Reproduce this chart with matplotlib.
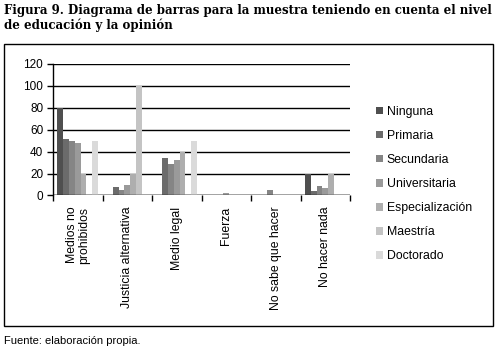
import matplotlib
matplotlib.use("Agg")
import matplotlib.pyplot as plt
from matplotlib.patches import Rectangle
import numpy as np

categories = ["Medios no\nprohibidos", "Justicia alternativa", "Medio legal",
              "Fuerza", "No sabe que hacer", "No hacer nada"]
levels = ["Ninguna", "Primaria", "Secundaria", "Universitaria",
          "Especialización", "Maestría", "Doctorado"]

# percent of each education level choosing each option
ninguna = [80, 0, 0, 0, 0, 20]
primaria = [52, 8, 34, 0, 0, 4]
secundaria = [50, 5, 29, 0, 5, 9]
universitaria = [48, 10, 32, 2, 0, 7]
especializacion = [20, 20, 40, 0, 0, 20]
maestria = [0, 100, 0, 0, 0, 0]
doctorado = [50, 0, 50, 0, 0, 0]

series = [ninguna, primaria, secundaria, universitaria,
          especializacion, maestria, doctorado]
colors = ["#4f4f4f", "#6b6b6b", "#858585", "#9a9a9a",
          "#aeaeae", "#c4c4c4", "#dadada"]

fig = plt.figure(figsize=(4.98, 3.51), dpi=100)
fig.patch.set_facecolor("white")

fig.text(0.008, 0.99, "Figura 9. Diagrama de barras para la muestra teniendo en cuenta el nivel\n"
         "de educación y la opinión", family="DejaVu Serif", weight="bold",
         fontsize=8.45, va="top", ha="left", linespacing=1.15)

# outer frame
fig.patches.append(Rectangle((4 / 498, 1 - 326 / 351), 489 / 498, 282 / 351,
                             transform=fig.transFigure, fill=False,
                             edgecolor="black", linewidth=1.0))

ax = fig.add_axes([53 / 498, 1 - 195.5 / 351, 297 / 498, 131.5 / 351])

x = np.arange(len(categories))
bw = 0.117
start = 0.09
for i, (vals, col, lab) in enumerate(zip(series, colors, levels)):
    ax.bar(x + start + i * bw, vals, width=bw, align="edge", color=col,
           label=lab, linewidth=0)

ax.set_xlim(0, len(categories))
ax.set_ylim(0, 120)
ax.set_yticks(range(0, 121, 20))
ax.yaxis.grid(True, color="black", linewidth=1.0)
ax.set_axisbelow(True)
for s in ["top", "right", "bottom"]:
    ax.spines[s].set_visible(False)
ax.spines["left"].set_linewidth(1.0)

ax.set_xticks(np.arange(len(categories) + 1))
ax.set_xticklabels([])
ax.set_xticks(x + 0.5, minor=True)
ax.set_xticklabels(categories, minor=True, rotation=90, va="top", ha="center",
                   family="Liberation Sans", fontsize=8.8, linespacing=1.0)
ax.tick_params(axis="x", which="minor", length=0, pad=8)
ax.tick_params(axis="x", which="major", length=4, width=1.0, direction="out")
ax.tick_params(axis="y", length=4, width=1.0, direction="out", pad=3)
for t in ax.get_yticklabels():
    t.set_family("Liberation Sans")
    t.set_fontsize(8.5)
ax.axhline(0, color="black", linewidth=1.0)

leg = ax.legend(loc="upper left", bbox_to_anchor=(371 / 498, 1 - 101 / 351),
                bbox_transform=fig.transFigure, frameon=False,
                prop={"family": "Liberation Sans", "size": 8.8},
                handlelength=0.55, handleheight=0.55, handletextpad=0.35,
                labelspacing=0.99, borderaxespad=0)

fig.text(0.008, 0.013, "Fuente: elaboración propia.", family="Liberation Sans",
         fontsize=8, ha="left", va="bottom")

plt.savefig("out.png", dpi=100)
plt.close()
